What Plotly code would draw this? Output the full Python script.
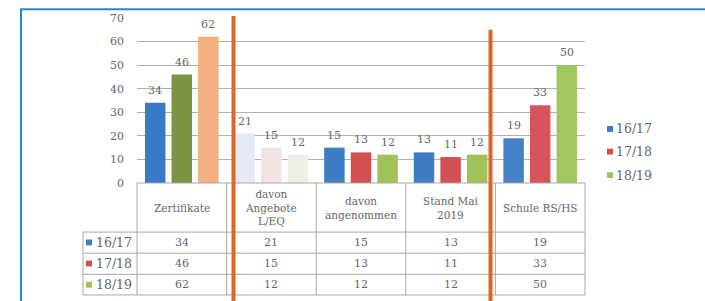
import plotly.graph_objects as go

categories = ["Zertifikate", "davon Angebote L/EQ", "davon angenommen", "Stand Mai 2019", "Schule RS/HS"]
header_labels = ["Zertifikate", "davon<br>Angebote<br>L/EQ", "davon<br>angenommen", "Stand Mai<br>2019", "Schule RS/HS"]
series_names = ["16/17", "17/18", "18/19"]
v1617 = [34, 21, 15, 13, 19]
v1718 = [46, 15, 13, 11, 33]
v1819 = [62, 12, 12, 12, 50]
values = [v1617, v1718, v1819]

base_colors = ["#3f7cc4", "#d2504f", "#9fc25b"]
bar_colors = [
    ["#3a79c6", "#e4ebf4", "#3f7cc4", "#3f7cc4", "#4680c6"],
    ["#7b9343", "#f3e3e3", "#d2504f", "#d2504f", "#d6545a"],
    ["#f3b07f", "#edf1e5", "#9fc25b", "#9fc25b", "#a2c660"],
]

# pixel geometry of the plot area
L, R, T, B = 137, 585, 15, 183
W, H = R - L, B - T
def X(px):
    return (px - L) / W
def Y(py):
    return (B - py) / H

SERIF = "DejaVu Serif"
TXT = "#666666"
BARGAP = 0.11
slot_px = W / len(categories) * (1 - BARGAP) / 3

fig = go.Figure()
for i in range(3):
    fig.add_trace(go.Bar(
        x=categories, y=values[i], name=series_names[i],
        marker=dict(color=bar_colors[i], line=dict(width=0)),
        showlegend=False, hoverinfo="x+y+name",
    ))

shapes = []
GRID = "#b0b0b0"
TAB = "#a8a8a8"
# frame
shapes.append(dict(type="line", xref="paper", yref="paper", x0=X(21), x1=X(21), y0=Y(6), y1=Y(305),
                   line=dict(color="#2588d0", width=2)))
shapes.append(dict(type="line", xref="paper", yref="paper", x0=X(20), x1=X(710), y0=Y(6), y1=Y(6),
                   line=dict(color="#2588d0", width=2)))
# table lines
col_edges = [137, 226.6, 316.2, 405.8, 495.4, 585]
row_edges = [233, 254.5, 276, 297]
shapes.append(dict(type="line", xref="paper", yref="paper", x0=X(137), x1=X(585), y0=Y(183), y1=Y(183),
                   line=dict(color=TAB, width=1)))
for ry in row_edges:
    shapes.append(dict(type="line", xref="paper", yref="paper", x0=X(83), x1=X(585), y0=Y(ry), y1=Y(ry),
                       line=dict(color=TAB, width=1)))
shapes.append(dict(type="line", xref="paper", yref="paper", x0=X(83), x1=X(83), y0=Y(233), y1=Y(297),
                   line=dict(color=TAB, width=1)))
for cx in col_edges:
    shapes.append(dict(type="line", xref="paper", yref="paper", x0=X(cx), x1=X(cx), y0=Y(183), y1=Y(297),
                       line=dict(color=TAB, width=1)))
# row key squares
row_centers = [243.5, 265, 286.5]
for i, ry in enumerate(row_centers):
    shapes.append(dict(type="rect", xref="paper", yref="paper", x0=X(86), x1=X(92), y0=Y(ry + 3), y1=Y(ry - 3),
                       line=dict(width=0), fillcolor=base_colors[i]))
# legend key squares
legend_centers = [128, 151, 175]
for i, ly in enumerate(legend_centers):
    shapes.append(dict(type="rect", xref="paper", yref="paper", x0=X(607), x1=X(613), y0=Y(ly + 3), y1=Y(ly - 3),
                       line=dict(width=0), fillcolor=base_colors[i]))
# orange separators
shapes.append(dict(type="line", xref="paper", yref="paper", x0=X(233.5), x1=X(233.5), y0=Y(13), y1=Y(305),
                   line=dict(color="#e0652b", width=4)))
shapes.append(dict(type="line", xref="paper", yref="paper", x0=X(490.5), x1=X(490.5), y0=Y(27), y1=Y(305),
                   line=dict(color="#e0652b", width=4)))

annotations = []
# data labels above bars
for i in range(3):
    for j in range(5):
        annotations.append(dict(x=categories[j], y=values[i][j], xref="x", yref="y",
                                text=str(values[i][j]), showarrow=False,
                                xanchor="center", yanchor="bottom",
                                xshift=(i - 1) * slot_px, yshift=4,
                                font=dict(family=SERIF, size=11, color=TXT)))
for j, lab in enumerate(header_labels):
    cx = (col_edges[j] + col_edges[j + 1]) / 2
    annotations.append(dict(xref="paper", yref="paper", x=X(cx), y=Y(208), text=lab, showarrow=False,
                            xanchor="center", yanchor="middle",
                            font=dict(family=SERIF, size=10.5, color=TXT)))
for i in range(3):
    annotations.append(dict(xref="paper", yref="paper", x=X(94), y=Y(row_centers[i]), text=series_names[i],
                            showarrow=False, xanchor="left", yanchor="middle",
                            font=dict(family=SERIF, size=12.5, color=TXT)))
    annotations.append(dict(xref="paper", yref="paper", x=X(614), y=Y(legend_centers[i]), text=series_names[i],
                            showarrow=False, xanchor="left", yanchor="middle",
                            font=dict(family=SERIF, size=12.5, color=TXT)))
    for j in range(5):
        cx = (col_edges[j] + col_edges[j + 1]) / 2
        annotations.append(dict(xref="paper", yref="paper", x=X(cx), y=Y(row_centers[i]),
                                text=str(values[i][j]), showarrow=False, xanchor="center", yanchor="middle",
                                font=dict(family=SERIF, size=11, color=TXT)))

fig.update_layout(
    width=705, height=301,
    margin=dict(l=L, r=705 - R, t=T, b=301 - B),
    paper_bgcolor="white", plot_bgcolor="white",
    barmode="group", bargap=BARGAP, bargroupgap=0.23,
    xaxis=dict(showticklabels=False, showgrid=False, zeroline=False, showline=False, ticks=""),
    yaxis=dict(range=[0, 70], dtick=10, showgrid=True, gridcolor=GRID, gridwidth=1, zeroline=False,
               showline=False, ticks="", ticklabelstandoff=12,
               tickfont=dict(family=SERIF, size=11, color=TXT)),
    showlegend=False,
    shapes=shapes, annotations=annotations,
)

fig.write_html("out.html", config={"displayModeBar": False},
               post_script="document.body.style.margin='0';document.body.style.padding='0';")
